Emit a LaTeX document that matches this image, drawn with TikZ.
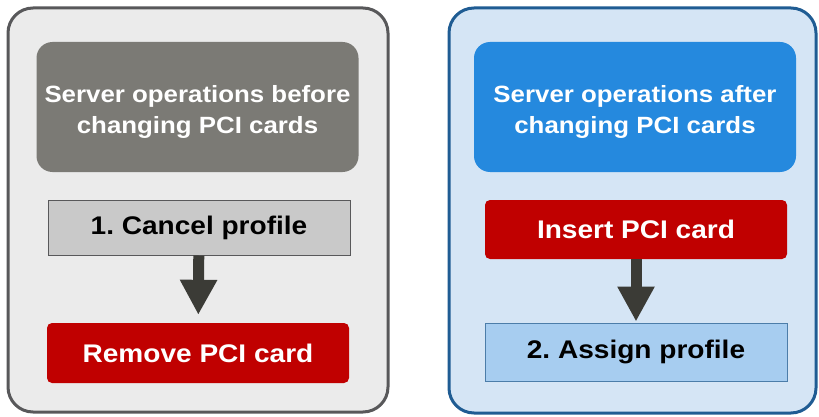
\documentclass[tikz,border=0pt]{standalone}
\usepackage{fontspec}
\setmainfont{Liberation Sans}[FakeStretch=1.1]
\usepackage{tikz}
\usetikzlibrary{arrows.meta, positioning}

\definecolor{frameGray}{HTML}{58585A}
\definecolor{panelGray}{HTML}{EBEBEB}
\definecolor{headGray}{HTML}{7B7A75}
\definecolor{stepGray}{HTML}{C9C9C9}
\definecolor{frameBlue}{HTML}{1F5C93}
\definecolor{panelBlue}{HTML}{D5E5F5}
\definecolor{headBlue}{HTML}{2589DE}
\definecolor{stepBlue}{HTML}{A7CDF0}
\definecolor{cardRed}{HTML}{C00000}
\definecolor{arrowDark}{HTML}{3B3B36}

\begin{document}
\frenchspacing
\begin{tikzpicture}[x=1pt, y=-1pt, font=\bfseries,
    panel/.style={line width=3pt, rounded corners=25pt},
    header/.style={rounded corners=16pt, minimum width=322pt, minimum height=130pt},
    headtext/.style={text=white, align=center, yshift=-5pt,
        font=\fontsize{23.5}{31}\selectfont\bfseries},
    stepbox/.style={minimum width=302pt, font=\fontsize{25.5}{30}\selectfont\bfseries},
    cardbox/.style={stepbox, fill=cardRed, text=white, rounded corners=5pt},
    flow/.style={arrowDark, line width=11pt, -{Triangle[width=35pt, length=35pt]}}]
\useasboundingbox (0,0) rectangle (819,417);

% before
\draw[panel, draw=frameGray, fill=panelGray] (8,8) rectangle (388,412);
\node[header, fill=headGray, label={[headtext]center:Server operations before\\changing PCI cards}] (before) at (197.5,107) {};
\node[stepbox, fill=stepGray, draw=frameGray, line width=1pt, minimum height=55pt] (cancel) at (199,227.5) {1. Cancel profile};
\node[cardbox, minimum height=60pt] (remove) at (198,353) {Remove PCI card};
\draw[flow, shorten >=8pt] (cancel) -- (remove);

% after
\draw[panel, draw=frameBlue, fill=panelBlue] (449,8) rectangle (816,413);
\node[header, fill=headBlue, label={[headtext]center:Server operations after\\changing PCI cards}] (after) at (635,107) {};
\node[cardbox, minimum height=59pt] (insert) at (636,229.5) {Insert PCI card};
\node[stepbox, fill=stepBlue, draw=frameBlue!80, line width=1pt, minimum height=58pt] (assign) at (636,352) {2. Assign profile};
\draw[flow, shorten >=1pt] (insert) -- (assign);
\end{tikzpicture}
\end{document}
